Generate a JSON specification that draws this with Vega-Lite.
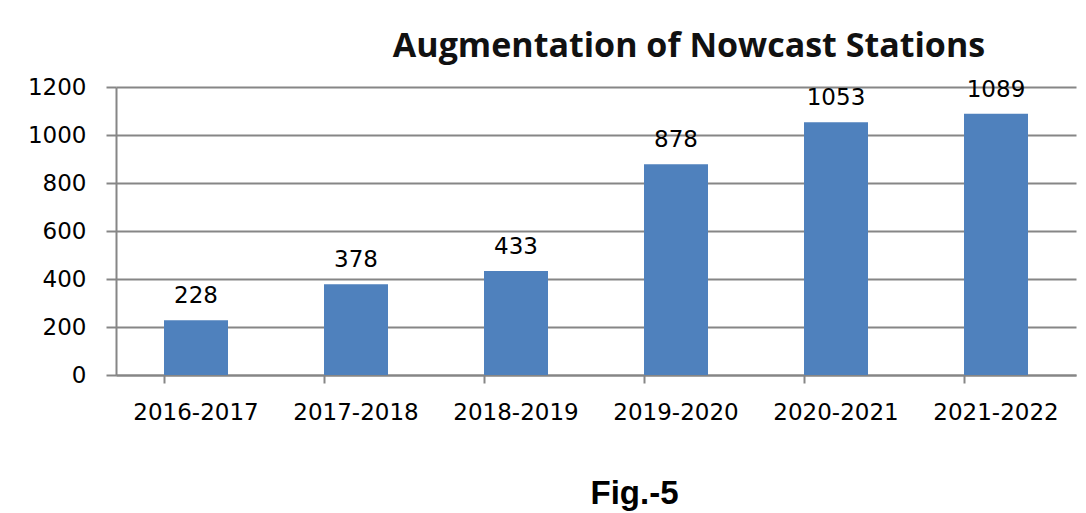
{
  "$schema": "https://vega.github.io/schema/vega-lite/v6.json",
  "autosize": {"type": "none"},
  "padding": {"left": 116, "top": 87, "right": 10, "bottom": 138},
  "width": 960,
  "height": 288,
  "background": "white",
  "config": {"view": {"stroke": null}},
  "title": {
    "text": "Augmentation of Nowcast Stations",
    "font": "Open Sans",
    "fontWeight": "bold",
    "fontSize": 34,
    "color": "#111111",
    "anchor": "middle",
    "dx": 93,
    "dy": 33,
    "baseline": "alphabetic",
    "offset": 18
  },
  "data": {
    "values": [
      {"year": "2016-2017", "stations": 228},
      {"year": "2017-2018", "stations": 378},
      {"year": "2018-2019", "stations": 433},
      {"year": "2019-2020", "stations": 878},
      {"year": "2020-2021", "stations": 1053},
      {"year": "2021-2022", "stations": 1089}
    ]
  },
  "encoding": {
    "x": {
      "field": "year",
      "type": "nominal",
      "sort": null,
      "scale": {"paddingInner": 0.6, "paddingOuter": 0.3},
      "axis": {
        "title": "Fig.-5",
        "titleFont": "Liberation Sans",
        "titleFontWeight": "bold",
        "titleFontSize": 33,
        "titleColor": "#000000",
        "titleX": 518,
        "titleY": 128,
        "titleBaseline": "alphabetic",
        "titleAnchor": null,
        "labelAngle": 0,
        "labelFont": "DejaVu Sans",
        "labelFontSize": 23,
        "labelColor": "#000000",
        "labelPadding": 18,
        "bandPosition": 0,
        "tickSize": 8,
        "tickWidth": 2,
        "tickColor": "#868686",
        "domainColor": "#868686",
        "domainWidth": 2,
        "grid": false
      }
    },
    "y": {
      "field": "stations",
      "type": "quantitative",
      "scale": {"domain": [0, 1200], "nice": false},
      "axis": {
        "title": null,
        "format": "d",
        "values": [0, 200, 400, 600, 800, 1000, 1200],
        "labelFont": "DejaVu Sans",
        "labelFontSize": 23,
        "labelColor": "#000000",
        "labelPadding": 20,
        "tickSize": 10,
        "tickWidth": 2,
        "tickColor": "#868686",
        "domainColor": "#868686",
        "domainWidth": 2,
        "grid": true,
        "gridColor": "#868686",
        "gridWidth": 2
      }
    }
  },
  "layer": [
    {"mark": {"type": "bar", "color": "#4f81bd"}},
    {
      "mark": {
        "type": "text",
        "font": "DejaVu Sans",
        "fontSize": 23,
        "color": "#000000",
        "baseline": "alphabetic",
        "dy": -17
      },
      "encoding": {"text": {"field": "stations", "type": "quantitative"}}
    }
  ]
}
